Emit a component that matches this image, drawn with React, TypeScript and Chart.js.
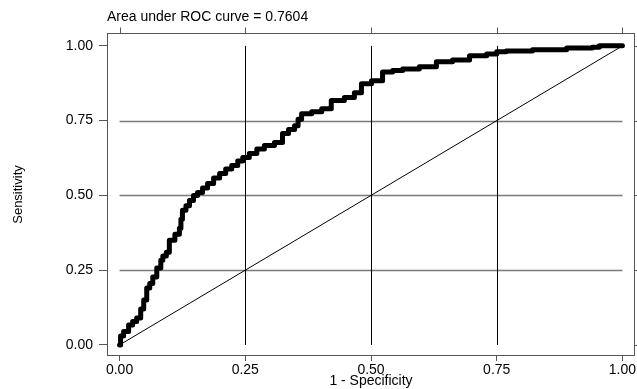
import React, { useEffect, useRef } from "react";
import { Chart, registerables } from "chart.js";

Chart.register(...registerables);

// ROC curve points (1 - specificity, sensitivity)
const FPR = [
  0, 0.002, 0.008, 0.018, 0.026, 0.034, 0.042, 0.048, 0.054, 0.06,
  0.066, 0.074, 0.082, 0.086, 0.093, 0.099, 0.11, 0.119, 0.122, 0.125,
  0.132, 0.139, 0.147, 0.155, 0.165, 0.175, 0.187, 0.199, 0.211, 0.223,
  0.235, 0.245, 0.258, 0.273, 0.288, 0.308, 0.324, 0.336, 0.348, 0.355,
  0.362, 0.382, 0.402, 0.421, 0.447, 0.467, 0.481, 0.501, 0.523, 0.543,
  0.563, 0.596, 0.63, 0.662, 0.696, 0.73, 0.75, 0.769, 0.821, 0.889,
  0.94, 0.954, 1.0,
];
const TPR = [
  0, 0.03, 0.045, 0.067, 0.078, 0.09, 0.12, 0.15, 0.19, 0.205,
  0.227, 0.257, 0.283, 0.297, 0.31, 0.35, 0.37, 0.39, 0.42, 0.45,
  0.465, 0.483, 0.5, 0.51, 0.525, 0.54, 0.558, 0.573, 0.588, 0.6,
  0.615, 0.627, 0.64, 0.655, 0.667, 0.677, 0.707, 0.72, 0.733, 0.755,
  0.773, 0.78, 0.79, 0.817, 0.827, 0.843, 0.873, 0.883, 0.913, 0.918,
  0.923, 0.93, 0.947, 0.953, 0.967, 0.973, 0.98, 0.983, 0.987, 0.993,
  0.995, 1.0, 1.0,
];
const DIAG_X = [0, 1];
const DIAG_Y = [0, 1];
const TICKS = [0, 0.25, 0.5, 0.75, 1];
const GRID_VALUES = [0.25, 0.5, 0.75];
const TITLE = "Area under ROC curve = 0.7604";
const X_TITLE = "1 - Specificity";
const Y_TITLE = "Sensitivity";

const FONT = "'Liberation Sans', Arial, Helvetica, sans-serif";

export default function App() {
  const ref = useRef<HTMLCanvasElement | null>(null);

  useEffect(() => {
    const canvas = ref.current;
    if (!canvas) return;

    const framePlugin = {
      id: "rocFrame",
      beforeDatasetsDraw(chart: any) {
        const { ctx } = chart;
        const xs = chart.scales.x;
        const ys = chart.scales.y;
        const x0 = xs.getPixelForValue(0);
        const x1 = xs.getPixelForValue(1);
        const y0 = ys.getPixelForValue(0);
        const y1 = ys.getPixelForValue(1);
        ctx.save();
        ctx.strokeStyle = "#7a7a7a";
        ctx.lineWidth = 1.3;
        for (const v of GRID_VALUES) {
          const y = Math.round(ys.getPixelForValue(v)) + 0.5;
          ctx.beginPath();
          ctx.moveTo(x0, y);
          ctx.lineTo(x1, y);
          ctx.stroke();
        }
        ctx.strokeStyle = "#000";
        ctx.lineWidth = 1;
        for (const v of GRID_VALUES) {
          const x = Math.round(xs.getPixelForValue(v)) + 0.5;
          ctx.beginPath();
          ctx.moveTo(x, y0);
          ctx.lineTo(x, y1);
          ctx.stroke();
        }
        ctx.restore();
      },
      afterDraw(chart: any) {
        const { ctx, chartArea } = chart;
        const xs = chart.scales.x;
        const ys = chart.scales.y;
        const l = Math.round(chartArea.left) + 0.5;
        const r = Math.round(chartArea.right) - 0.5;
        const t = Math.round(chartArea.top) + 0.5;
        const b = Math.round(chartArea.bottom) - 0.5;
        ctx.save();
        ctx.strokeStyle = "#555";
        ctx.lineWidth = 1;
        ctx.strokeRect(l, t, r - l, b - t);
        for (const v of TICKS) {
          const x = Math.round(xs.getPixelForValue(v)) + 0.5;
          ctx.beginPath();
          ctx.moveTo(x, t);
          ctx.lineTo(x, t - 6);
          ctx.stroke();
        }
        for (const v of TICKS) {
          const y = Math.round(ys.getPixelForValue(v)) + 0.5;
          ctx.beginPath();
          ctx.moveTo(r, y);
          ctx.lineTo(r + 6, y);
          ctx.stroke();
        }
        ctx.restore();
      },
    };

    const chart = new Chart(canvas, {
      type: "scatter",
      data: {
        datasets: [
          {
            label: "ROC",
            data: FPR.map((x, i) => ({ x, y: TPR[i] })),
            showLine: true,
            stepped: "before",
            borderColor: "#000",
            backgroundColor: "#000",
            borderWidth: 5,
            borderJoinStyle: "round",
            borderCapStyle: "round",
            pointRadius: 0,
            order: 1,
          },
          {
            label: "Reference",
            data: DIAG_X.map((x, i) => ({ x, y: DIAG_Y[i] })),
            showLine: true,
            borderColor: "#000",
            borderWidth: 1,
            pointRadius: 0,
            order: 2,
          },
        ],
      },
      options: {
        responsive: false,
        animation: false,
        devicePixelRatio: 1,
        layout: { padding: { left: 0, right: 2, top: 0, bottom: 0 } },
        plugins: {
          legend: { display: false },
          tooltip: { enabled: false },
          title: {
            display: true,
            text: TITLE,
            align: "start",
            fullSize: false,
            color: "#000",
            font: { family: FONT, size: 14, weight: "normal", lineHeight: 1.2 },
            padding: { top: 8.9, bottom: 7.3 },
          },
        },
        scales: {
          x: {
            type: "linear",
            min: -0.025,
            max: 1.025,
            afterBuildTicks: (scale: any) => {
              scale.ticks = TICKS.map((v) => ({ value: v }));
            },
            afterFit: (scale: any) => {
              scale.height = 33;
              scale.paddingLeft = 0;
              scale.paddingRight = 0;
            },
            ticks: {
              color: "#000",
              font: { family: FONT, size: 14 },
              padding: 1,
              maxRotation: 0,
              autoSkip: false,
              callback: (v: any) => Number(v).toFixed(2),
            },
            grid: {
              display: true,
              drawOnChartArea: false,
              drawTicks: true,
              tickLength: 5,
              color: "#555",
            },
            border: { display: false },
            title: {
              display: true,
              text: X_TITLE,
              color: "#000",
              font: { family: FONT, size: 14, lineHeight: 1.1 },
              padding: { top: 0, bottom: 0 },
            },
          },
          y: {
            type: "linear",
            min: -0.037,
            max: 1.043,
            afterBuildTicks: (scale: any) => {
              scale.ticks = TICKS.map((v) => ({ value: v }));
            },
            afterFit: (scale: any) => {
              scale.width = 107;
              scale.paddingTop = 0;
              scale.paddingBottom = 0;
            },
            ticks: {
              color: "#000",
              font: { family: FONT, size: 14 },
              padding: 6,
              autoSkip: false,
              callback: (v: any) => Number(v).toFixed(2),
            },
            grid: {
              display: true,
              drawOnChartArea: false,
              drawTicks: true,
              tickLength: 8,
              color: "#555",
            },
            border: { display: false },
            title: {
              display: true,
              text: Y_TITLE,
              color: "#000",
              font: { family: FONT, size: 13, lineHeight: 1.2 },
              padding: { top: 10.7, bottom: 0 },
            },
          },
        },
      },
      plugins: [framePlugin],
    } as any);

    return () => chart.destroy();
  }, []);

  return (
    <div
      style={{
        position: "fixed",
        left: 0,
        top: 0,
        width: 637,
        height: 389,
        background: "#fff",
      }}
    >
      <canvas ref={ref} width={637} height={389} style={{ display: "block" }} />
    </div>
  );
}
